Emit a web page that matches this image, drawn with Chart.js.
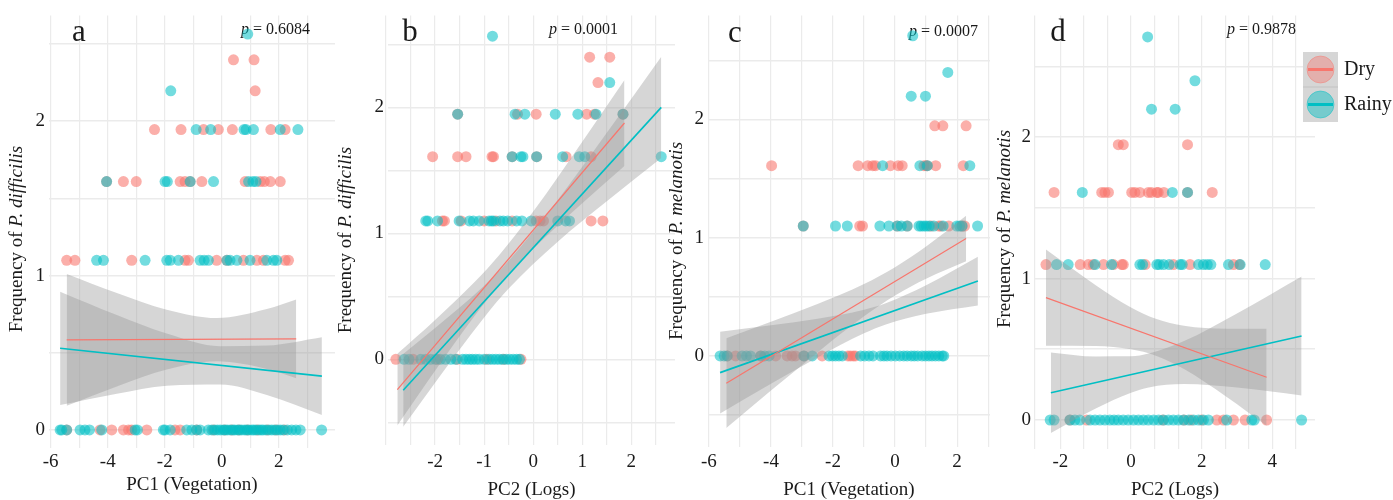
<!DOCTYPE html>
<html>
<head>
<meta charset="utf-8">
<script src="https://cdn.jsdelivr.net/npm/chart.js@4.4.1/dist/chart.umd.min.js"></script>
<style>
  body { margin: 0; background: #fff; width: 1393px; height: 500px; overflow: hidden; position: relative; font-family: "Liberation Serif", serif; }
  canvas { position: absolute; top: 0; }
</style>
</head>
<body>
<canvas id="pa" width="345" height="500" style="left:0px"></canvas>
<canvas id="pb" width="355" height="500" style="left:330px"></canvas>
<canvas id="pc" width="335" height="500" style="left:665px"></canvas>
<canvas id="pd" width="403" height="500" style="left:990px"></canvas>
<script>
// y levels used by the counts (log scale)
const L0 = 0, L1 = 1.099, L2 = 1.609, L3 = 1.946, L4 = 2.197, L5 = 2.398, L6 = 2.565, L7 = 2.708;

const seasons = ['Dry', 'Rainy'];

// ---- panel a : PC1 vs P. difficilis ----
const aDry = [
  [L0, [-5.44, -4.27, -3.86, -3.45, -3.27, -3.16, -2.63, -1.64, -1.46, -0.88, -0.29, 0.1, 0.35, 0.6, 0.9, 1.25, 1.6, 1.9, 2.2]],
  [L1, [-5.44, -5.15, -3.16, -1.29, -1.17, -0.18, 0.18, 0.76, 1.23, 1.46, 2.22, 2.34]],
  [L2, [-4.04, -3.45, -3.0, -1.46, -1.29, -1.11, -0.70, 0.82, 1.35, 1.49, 1.70, 2.05]],
  [L3, [-2.36, -1.43, -0.64, -0.12, 0.37, 1.72, 2.22]],
  [L4, [1.17]],
  [L5, [0.41, 1.13]]
];
const aRainy = [
  [L0, [-5.67, -5.61, -5.44, -4.97, -4.80, -4.64, -4.21, -3.04, -2.96, -2.05, -1.99, -1.81, -1.23, -1.05, -0.88, -0.76, -0.47, -0.35, -0.25, -0.15, -0.05, 0.05, 0.12, 0.2, 0.3, 0.38, 0.45, 0.55, 0.62, 0.7, 0.8, 0.88, 0.95, 1.05, 1.12, 1.2, 1.3, 1.38, 1.45, 1.55, 1.65, 1.75, 1.85, 1.95, 2.05, 2.15, 2.3, 2.45, 2.6, 2.75, 3.5]],
  [L1, [-4.39, -4.15, -2.69, -1.93, -1.81, -1.52, -0.76, -0.62, -0.47, 0.18, 0.29, 0.53, 0.99, 1.58, 1.81, 1.93]],
  [L2, [-4.04, -1.99, -1.91, -1.11, -0.29, 0.94, 1.09, 1.20]],
  [L3, [-0.90, -0.39, 0.78, 0.85, 1.11, 2.05, 2.67]],
  [L4, [-1.79]],
  [L6, [0.91]]
];
const aDryLineX = [-5.44, 2.61], aDryLineY = [0.583, 0.590];
const aDryBandX = [-5.44, -3.68, -1.93, -0.18, 1.58, 2.61];
const aDryBandHi = [1.01, 0.887, 0.779, 0.725, 0.783, 0.845];
const aDryBandLo = [0.156, 0.281, 0.391, 0.445, 0.395, 0.335];
const aRainyLineX = [-5.67, 3.51], aRainyLineY = [0.529, 0.349];
const aRainyBandX = [-5.67, -3.68, -1.93, -0.06, 1.58, 3.51];
const aRainyBandHi = [0.896, 0.745, 0.625, 0.543, 0.547, 0.601];
const aRainyBandLo = [0.162, 0.235, 0.287, 0.295, 0.227, 0.097];
const aXGrid = [-6, -5, -4, -3, -2, -1, 0, 1, 2, 3];
const aXLabels = [-6, -4, -2, 0, 2];
const aYGrid = [0, 0.5, 1, 1.5, 2, 2.5];
const aYLabels = [0, 1, 2];

// ---- panel b : PC2 vs P. difficilis ----
const bDry = [
  [L0, [-2.8, -2.45, -1.95, -1.55, -0.95, -0.6, -0.25]],
  [L1, [-1.85, -1.81, -1.47, -1.0, -0.76, -0.43, 0.06, 0.14, 0.21, 1.18, 1.42]],
  [L2, [-2.05, -1.54, -1.37, -0.84, -0.81, -0.43, 0.07, 0.67, 1.18]],
  [L3, [-1.54, -0.32, 0.06, 1.09, 1.25, 1.83]],
  [L4, [1.32]],
  [L5, [1.15, 1.56]]
];
const bRainy = [
  [L0, [-2.63, -2.53, -2.29, -2.19, -2.09, -1.99, -1.89, -1.79, -1.68, -1.58, -1.44, -1.37, -1.30, -1.24, -1.17, -1.10, -1.0, -0.9, -0.83, -0.76, -0.69, -0.62, -0.55, -0.48, -0.41, -0.34, -0.28]],
  [L1, [-2.19, -2.15, -1.95, -1.51, -1.30, -1.22, -1.10, -0.90, -0.85, -0.81, -0.68, -0.61, -0.52, -0.34, -0.23, -0.04, 0.50, 0.66, 0.74]],
  [L2, [-0.43, -0.25, -0.21, 0.07, 0.60, 0.94, 1.05, 2.61]],
  [L3, [-1.54, -0.37, -0.17, 0.45, 0.91, 1.28, 1.83]],
  [L4, [1.56]],
  [L6, [-0.83]]
];
const bDryLineX = [-2.77, 1.86], bDryLineY = [-0.241, 1.876];
const bDryBandX = [-2.77, -2, -1.2, -0.7, 0, 1, 1.86];
const bDryBandHi = [0.044, 0.313, 0.612, 0.825, 1.173, 1.727, 2.217];
const bDryBandLo = [-0.526, -0.091, 0.342, 0.585, 0.877, 1.239, 1.535];
const bRainyLineX = [-2.65, 2.61], bRainyLineY = [-0.246, 2.0];
const bRainyBandX = [-2.65, -2, -1, -0.5, 0.5, 1.5, 2.61];
const bRainyBandHi = [0.043, 0.249, 0.585, 0.782, 1.265, 1.798, 2.402];
const bRainyBandLo = [-0.535, -0.185, 0.333, 0.562, 0.933, 1.254, 1.598];
const bXGrid = [-3, -2.5, -2, -1.5, -1, -0.5, 0, 0.5, 1, 1.5, 2, 2.5];
const bXLabels = [-2, -1, 0, 1, 2];
const bYGrid = [-0.5, 0, 0.5, 1, 1.5, 2, 2.5];
const bYLabels = [0, 1, 2];

// ---- panel c : PC1 vs P. melanotis ----
const cDry = [
  [L0, [-5.41, -5.14, -4.33, -3.85, -3.48, -3.32, -3.21, -2.94, -2.35, -1.52, -1.44, -1.35, -1.28]],
  [L1, [-2.96, -1.14, -1.05, 0.07, 0.39, 1.16, 1.41, 1.48, 1.73, 2.16, 2.24]],
  [L2, [-3.98, -1.19, -0.88, -0.72, -0.63, -0.15, 0.10, 0.23, 0.93, 1.0, 1.04, 1.31, 2.2]],
  [L3, [1.28, 1.54, 2.29]]
];
const cRainy = [
  [L0, [-5.64, -5.51, -5.41, -4.93, -4.79, -4.66, -4.33, -4.20, -4.06, -2.94, -2.67, -2.13, -2.02, -1.92, -1.81, -1.70, -1.11, -0.98, -0.84, -0.71, -0.47, -0.36, -0.26, -0.13, 0.01, 0.15, 0.28, 0.39, 0.52, 0.62, 0.73, 0.87, 0.98, 1.09, 1.19, 1.30, 1.41, 1.52, 1.57]],
  [L1, [-2.96, -1.92, -1.54, -0.49, -0.20, 0.07, 0.20, 0.39, 0.77, 0.84, 0.93, 1.01, 1.10, 1.25, 1.55, 1.99, 2.08, 2.16, 2.66]],
  [L2, [-0.40, 0.80, 1.04, 2.41]],
  [L4, [0.52, 0.98]],
  [L5, [1.70]],
  [L7, [0.57]]
];
const cDryLineX = [-5.44, 2.29], cDryLineY = [-0.23, 0.993];
const cDryBandX = [-5.44, -4, -2.5, -1, 0, 1, 2.29];
const cDryBandHi = [0.15, 0.289, 0.44, 0.609, 0.751, 0.926, 1.186];
const cDryBandLo = [-0.61, -0.293, 0.03, 0.335, 0.511, 0.652, 0.8];
const cRainyLineX = [-5.64, 2.67], cRainyLineY = [-0.141, 0.633];
const cRainyBandX = [-5.64, -4, -2.5, -1, -0.3, 1, 2.67];
const cRainyBandHi = [0.204, 0.26, 0.315, 0.391, 0.446, 0.598, 0.839];
const cRainyBandLo = [-0.486, -0.236, -0.013, 0.191, 0.266, 0.356, 0.427];
const cXGrid = [-6, -5, -4, -3, -2, -1, 0, 1, 2, 3];
const cXLabels = [-6, -4, -2, 0, 2];
const cYGrid = [-0.5, 0, 0.5, 1, 1.5, 2, 2.5];
const cYLabels = [0, 1, 2];

// ---- panel d : PC2 vs P. melanotis ----
const dDry = [
  [L0, [-1.73, -1.26, 0.9, 1.5, 1.7, 2.0, 2.43, 2.62, 2.90, 3.23, 3.84]],
  [L1, [-2.41, -1.44, -1.21, -1.07, -0.78, -0.5, -0.26, -0.22, 0.40, 1.20, 1.67, 2.90, 3.07]],
  [L2, [-2.18, -0.83, -0.74, -0.64, 0.02, 0.11, 0.25, 0.49, 0.58, 0.73, 0.77, 0.93, 1.6, 2.3]],
  [L3, [-0.36, -0.22, 1.6]]
];
const dRainy = [
  [L0, [-2.29, -2.18, -1.73, -1.59, -1.45, -1.16, -1.02, -0.88, -0.74, -0.60, -0.48, -0.36, -0.22, -0.08, 0.07, 0.21, 0.35, 0.49, 0.64, 0.78, 0.92, 1.06, 1.20, 1.34, 1.49, 1.63, 1.77, 1.91, 2.05, 2.19, 2.71, 3.42, 3.49, 4.83]],
  [L1, [-2.11, -1.78, -1.02, -0.55, 0.25, 0.33, 0.73, 0.80, 0.92, 1.08, 1.39, 1.45, 1.91, 2.05, 2.16, 2.26, 2.76, 3.09, 3.80]],
  [L2, [-1.38, 1.17, 1.6]],
  [L4, [0.58, 1.25]],
  [L5, [1.81]],
  [L7, [0.47]]
];
const dDryLineX = [-2.41, 3.84], dDryLineY = [0.865, 0.302];
const dDryBandX = [-2.41, -1, 0, 0.7, 1.5, 2.7, 3.84];
const dDryBandHi = [1.205, 0.953, 0.796, 0.715, 0.666, 0.645, 0.645];
const dDryBandLo = [0.525, 0.523, 0.5, 0.455, 0.36, 0.165, -0.041];
const dRainyLineX = [-2.27, 4.83], dRainyLineY = [0.193, 0.594];
const dRainyBandX = [-2.27, -1, 0, 0.5, 1.5, 3, 4.83];
const dRainyBandHi = [0.478, 0.449, 0.45, 0.47, 0.558, 0.753, 1.015];
const dRainyBandLo = [-0.092, 0.081, 0.192, 0.23, 0.254, 0.229, 0.173];
const dXGrid = [-2.72, -2, -1.333, -0.667, 0, 0.667, 1.333, 2, 2.667, 3.333, 4, 4.667];
const dXLabels = [-2, 0, 2, 4];
const dYGrid = [0, 0.5, 1, 1.5, 2, 2.5];
const dYLabels = [0, 1, 2];

const DRY = '#F8766D', RAINY = '#00BFC4';
const SERIF = '"Liberation Serif", "Times New Roman", serif';
const INK = '#1a1a1a';
Chart.defaults.font.family = SERIF;

function rowsToPoints(rows) {
  const out = [];
  rows.forEach(([y, xs]) => xs.forEach(x => out.push({ x: x, y: y })));
  return out;
}
function xy(xs, ys) { return xs.map((x, i) => ({ x: x, y: ys[i] })); }

// draws y title (mixed italic), panel letter and p value
const panelText = {
  id: 'panelText',
  beforeDatasetsDraw(chart, args, o) {
    const ctx = chart.ctx;
    ctx.save();
    ctx.fillStyle = INK;
    ctx.textBaseline = 'middle';
    ctx.textAlign = 'left';
    // p value
    ctx.font = 'italic 16px ' + SERIF;
    const wp = ctx.measureText('p').width;
    ctx.font = '16px ' + SERIF;
    const rest = ' = ' + o.p;
    const wr = ctx.measureText(rest).width;
    const px = o.pRight - o.left - wp - wr;
    ctx.font = 'italic 16px ' + SERIF;
    ctx.fillText('p', px, o.pY);
    ctx.font = '16px ' + SERIF;
    ctx.fillText(rest, px + wp, o.pY);
    // letter
    ctx.font = '31px ' + SERIF;
    ctx.textAlign = 'center';
    ctx.fillText(o.letter, o.lx - o.left, o.ly);
    // y title
    ctx.translate(o.tx - o.left, o.ty);
    ctx.rotate(-Math.PI / 2);
    ctx.textAlign = 'left';
    ctx.font = '19px ' + SERIF;
    const t1 = 'Frequency of ';
    const w1 = ctx.measureText(t1).width;
    ctx.font = 'italic 19px ' + SERIF;
    const w2 = ctx.measureText(o.species).width;
    const sx = -(w1 + w2) / 2;
    ctx.font = '19px ' + SERIF;
    ctx.fillText(t1, sx, 0);
    ctx.font = 'italic 19px ' + SERIF;
    ctx.fillText(o.species, sx + w1, 0);
    ctx.restore();
  }
};

// legend for panel d (grey keys with circle + line)
const seasonLegend = {
  id: 'seasonLegend',
  afterDraw(chart, args, o) {
    if (!o.show) return;
    const ctx = chart.ctx;
    const x0 = 1303 - o.left, y0 = 52, kw = 35, kh = 35;
    const cols = [DRY, RAINY];
    const fills = ['rgba(248,118,109,0.4)', 'rgba(0,191,196,0.45)'];
    ctx.save();
    seasons.forEach((s, i) => {
      const ky = y0 + i * kh;
      ctx.fillStyle = '#d6d6d6';
      ctx.fillRect(x0, ky, kw, kh);
      const cx = x0 + kw / 2, cy = ky + kh / 2;
      ctx.beginPath();
      ctx.arc(cx, cy, 13.5, 0, Math.PI * 2);
      ctx.fillStyle = fills[i];
      ctx.fill();
      ctx.lineWidth = 1;
      ctx.strokeStyle = i === 0 ? 'rgba(248,118,109,0.45)' : 'rgba(0,191,196,0.45)';
      ctx.stroke();
      ctx.beginPath();
      ctx.moveTo(x0 + 5, cy);
      ctx.lineTo(x0 + kw - 5, cy);
      ctx.lineWidth = 3;
      ctx.strokeStyle = cols[i];
      ctx.stroke();
      ctx.fillStyle = INK;
      ctx.font = '20px ' + SERIF;
      ctx.textAlign = 'left';
      ctx.textBaseline = 'middle';
      ctx.fillText(s, x0 + kw + 6, cy);
    });
    ctx.fillStyle = '#c2c2c2';
    ctx.fillRect(x0, y0 + kh - 0.5, kw, 1);
    ctx.restore();
  }
};

function makePanel(cfg) {
  const band = (xs, hi, lo) => [
    { type: 'line', data: xy(xs, hi), borderWidth: 0, pointRadius: 0, fill: '+1',
      backgroundColor: 'rgba(153,153,153,0.4)', cubicInterpolationMode: 'monotone', order: 2 },
    { type: 'line', data: xy(xs, lo), borderWidth: 0, pointRadius: 0, fill: false,
      cubicInterpolationMode: 'monotone', order: 2 }
  ];
  const datasets = [
    { type: 'scatter', label: 'Dry', data: rowsToPoints(cfg.dry), backgroundColor: 'rgba(248,118,109,0.58)',
      pointRadius: 5.5, pointHoverRadius: 5.5, borderWidth: 0, order: 4 },
    { type: 'scatter', label: 'Rainy', data: rowsToPoints(cfg.rainy), backgroundColor: 'rgba(0,191,196,0.55)',
      pointRadius: 5.5, pointHoverRadius: 5.5, borderWidth: 0, order: 3 },
    ...band(cfg.dryBand[0], cfg.dryBand[1], cfg.dryBand[2]),
    ...band(cfg.rainyBand[0], cfg.rainyBand[1], cfg.rainyBand[2]),
    { type: 'line', data: xy(cfg.dryLine[0], cfg.dryLine[1]), borderColor: DRY, borderWidth: 1.2,
      pointRadius: 0, fill: false, order: 1 },
    { type: 'line', data: xy(cfg.rainyLine[0], cfg.rainyLine[1]), borderColor: RAINY, borderWidth: 1.6,
      pointRadius: 0, fill: false, order: 1 }
  ];
  const tickFont = { family: SERIF, size: 19 };
  new Chart(document.getElementById(cfg.id), {
    type: 'scatter',
    data: { datasets: datasets },
    plugins: [panelText, seasonLegend],
    options: {
      responsive: false,
      animation: false,
      events: [],
      layout: { padding: { top: 15, right: cfg.padRight, left: 0, bottom: 0 } },
      plugins: {
        legend: { display: false },
        tooltip: { enabled: false },
        panelText: { left: cfg.left, p: cfg.p, pRight: cfg.pRight, pY: cfg.pY, letter: cfg.letter,
          lx: cfg.lx, ly: cfg.ly, tx: cfg.tx, ty: cfg.ty, species: cfg.species },
        seasonLegend: { show: !!cfg.legend, left: cfg.left }
      },
      scales: {
        x: {
          type: 'linear', min: cfg.xr[0], max: cfg.xr[1],
          afterFit(s) { s.height = cfg.xh; },
          afterBuildTicks(s) { s.ticks = cfg.xGrid.map(v => ({ value: v })); },
          ticks: { autoSkip: false, maxRotation: 0, padding: cfg.xPad, color: INK, font: tickFont,
            callback: v => cfg.xLabels.includes(v) ? String(v) : '' },
          grid: { color: '#ebebeb', lineWidth: 1.2, drawTicks: false },
          border: { display: false },
          title: { display: true, text: cfg.xTitle, color: INK, font: { family: SERIF, size: 19, lineHeight: 1 },
            padding: { top: 0, bottom: cfg.xtPad } }
        },
        y: {
          type: 'linear', min: cfg.yr[0], max: cfg.yr[1],
          afterFit(s) { s.width = cfg.yw; },
          afterBuildTicks(s) { s.ticks = cfg.yGrid.map(v => ({ value: v })); },
          ticks: { autoSkip: false, padding: 4, color: INK, font: tickFont,
            callback: v => cfg.yLabels.includes(v) ? String(v) : '' },
          grid: { color: '#ebebeb', lineWidth: 1.6, drawTicks: false },
          border: { display: false }
        }
      }
    }
  });
}

makePanel({
  id: 'pa', left: 0, yw: 49, xh: 52, padRight: 10, xPad: 3, xtPad: 5.5,
  xr: [-6.06, 3.97], yr: [-0.117, 2.686],
  dry: aDry, rainy: aRainy,
  dryLine: [aDryLineX, aDryLineY], rainyLine: [aRainyLineX, aRainyLineY],
  dryBand: [aDryBandX, aDryBandHi, aDryBandLo], rainyBand: [aRainyBandX, aRainyBandHi, aRainyBandLo],
  xGrid: aXGrid, xLabels: aXLabels, yGrid: aYGrid, yLabels: aYLabels,
  xTitle: 'PC1 (Vegetation)', species: 'P. difficilis',
  p: '0.6084', pRight: 310, pY: 30, letter: 'a', lx: 79, ly: 33, tx: 17, ty: 239
});
makePanel({
  id: 'pb', left: 330, yw: 58, xh: 55, padRight: 10, xPad: 6, xtPad: 0.5,
  xr: [-2.96, 2.89], yr: [-0.68, 2.73],
  dry: bDry, rainy: bRainy,
  dryLine: [bDryLineX, bDryLineY], rainyLine: [bRainyLineX, bRainyLineY],
  dryBand: [bDryBandX, bDryBandHi, bDryBandLo], rainyBand: [bRainyBandX, bRainyBandHi, bRainyBandLo],
  xGrid: bXGrid, xLabels: bXLabels, yGrid: bYGrid, yLabels: bYLabels,
  xTitle: 'PC2 (Logs)', species: 'P. difficilis',
  p: '0.0001', pRight: 618, pY: 30, letter: 'b', lx: 410, ly: 33, tx: 346, ty: 240
});
makePanel({
  id: 'pc', left: 665, yw: 43, xh: 53, padRight: 10, xPad: 4, xtPad: 0.5,
  xr: [-6.03, 3.06], yr: [-0.77, 2.88],
  dry: cDry, rainy: cRainy,
  dryLine: [cDryLineX, cDryLineY], rainyLine: [cRainyLineX, cRainyLineY],
  dryBand: [cDryBandX, cDryBandHi, cDryBandLo], rainyBand: [cRainyBandX, cRainyBandHi, cRainyBandLo],
  xGrid: cXGrid, xLabels: cXLabels, yGrid: cYGrid, yLabels: cYLabels,
  xTitle: 'PC1 (Vegetation)', species: 'P. melanotis',
  p: '0.0007', pRight: 978, pY: 32, letter: 'c', lx: 735, ly: 34, tx: 677, ty: 241
});
makePanel({
  id: 'pd', left: 990, yw: 45, xh: 51, padRight: 78, xPad: 2, xtPad: 0.5, legend: true,
  xr: [-2.72, 5.21], yr: [-0.205, 2.86],
  dry: dDry, rainy: dRainy,
  dryLine: [dDryLineX, dDryLineY], rainyLine: [dRainyLineX, dRainyLineY],
  dryBand: [dDryBandX, dDryBandHi, dDryBandLo], rainyBand: [dRainyBandX, dRainyBandHi, dRainyBandLo],
  xGrid: dXGrid, xLabels: dXLabels, yGrid: dYGrid, yLabels: dYLabels,
  xTitle: 'PC2 (Logs)', species: 'P. melanotis',
  p: '0.9878', pRight: 1296, pY: 30, letter: 'd', lx: 1058, ly: 33, tx: 1005, ty: 229
});
</script>
</body>
</html>
